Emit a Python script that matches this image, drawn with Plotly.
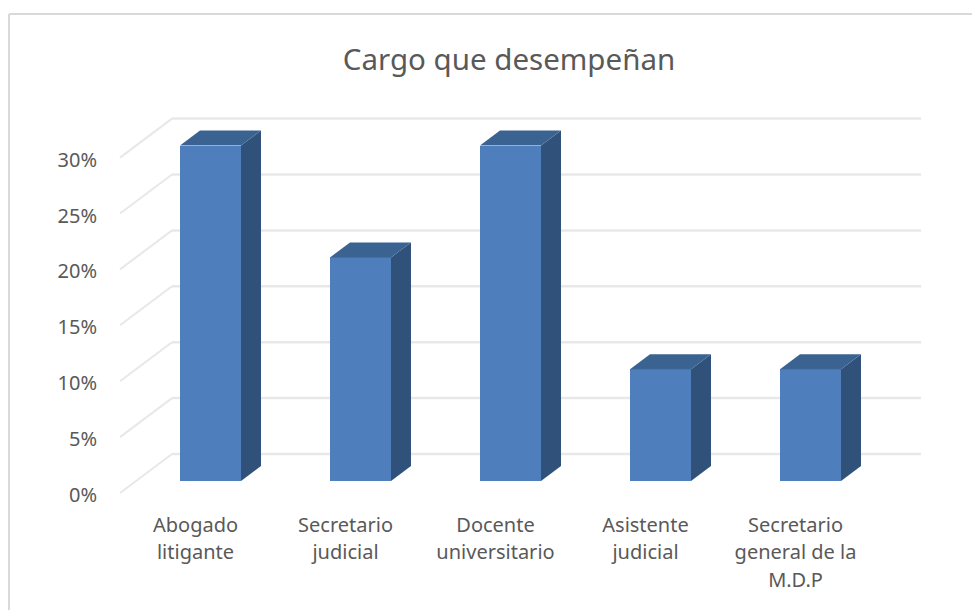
import plotly.graph_objects as go

# ---- data ----
categories = ["Abogado<br>litigante", "Secretario<br>judicial", "Docente<br>universitario",
              "Asistente<br>judicial", "Secretario<br>general de la<br>M.D.P"]
values = [30, 20, 30, 10, 10]
tick_values = [0, 5, 10, 15, 20, 25, 30]
tick_labels = ["0%", "5%", "10%", "15%", "20%", "25%", "30%"]
title_text = "Cargo que desempeñan"

# ---- geometry of the oblique projection (axis units) ----
W, H = 972, 610
PX_PER_X = 150.0
PX_PER_Y = 11.18
X0_PX = 210.5      # first bar centre
Y0_PX = 481.0      # front baseline of bars
def xu(px): return (px - X0_PX) / PX_PER_X
def yu(px): return (Y0_PX - px) / PX_PER_Y

BAR_W = 61 / PX_PER_X
DEPTH_X = 20 / PX_PER_X
DEPTH_Y = 15 / PX_PER_Y
AXIS_Y_SHIFT = yu(493)          # label plane relative to the bars' plane
WALL_Y_SHIFT = yu(454)          # back wall relative to the bars' plane
FLOOR_LEFT = xu(120)
WALL_LEFT = xu(172)
WALL_RIGHT = xu(921)
LABEL_SHIFT = -15 / PX_PER_X

C_FRONT = "#4e7fbc"
C_SIDE = "#30517a"
C_TOP = "#3b6391"
C_GRID = "#e8e8e8"
C_TEXT = "#595959"
C_FRAME = "#d9d9d9"

x_pos = list(range(len(values)))

fig = go.Figure()
fig.add_trace(go.Bar(x=x_pos, y=values, width=BAR_W, marker=dict(color=C_FRONT, line=dict(width=0)),
                     showlegend=False, hoverinfo="skip"))

for xc, v in zip(x_pos, values):
    xl, xr = xc - BAR_W / 2, xc + BAR_W / 2
    fig.add_trace(go.Scatter(
        x=[xr, xr + DEPTH_X, xr + DEPTH_X, xr, xr],
        y=[0, DEPTH_Y, v + DEPTH_Y, v, 0],
        mode="lines", fill="toself", fillcolor=C_SIDE, line=dict(width=0),
        showlegend=False, hoverinfo="skip"))
    fig.add_trace(go.Scatter(
        x=[xl, xl + DEPTH_X, xr + DEPTH_X, xr, xl],
        y=[v, v + DEPTH_Y, v + DEPTH_Y, v, v],
        mode="lines", fill="toself", fillcolor=C_TOP, line=dict(width=0),
        showlegend=False, hoverinfo="skip"))

shapes = []
for t in tick_values:
    yf, yb = t + AXIS_Y_SHIFT, t + WALL_Y_SHIFT
    shapes.append(dict(type="line", xref="x", yref="y", layer="below",
                       x0=FLOOR_LEFT, y0=yf, x1=WALL_LEFT, y1=yb,
                       line=dict(color=C_GRID, width=2)))
    shapes.append(dict(type="line", xref="x", yref="y", layer="below",
                       x0=WALL_LEFT, y0=yb, x1=WALL_RIGHT, y1=yb,
                       line=dict(color=C_GRID, width=2.5)))
shapes.append(dict(type="line", xref="paper", yref="paper", x0=9/W, x1=9/W, y0=0, y1=1-14/H,
                   line=dict(color=C_FRAME, width=2)))
shapes.append(dict(type="line", xref="paper", yref="paper", x0=9/W, x1=1, y0=1-14/H, y1=1-14/H,
                   line=dict(color=C_FRAME, width=2)))

def small(s):
    return "<br>".join(f'<span style="font-size:20px">{p}</span>' for p in s.split("<br>"))

fig.update_layout(
    width=W, height=H, margin=dict(l=0, r=0, t=0, b=0),
    paper_bgcolor="white", plot_bgcolor="white", shapes=shapes,
    font=dict(family="Noto Sans, Open Sans, sans-serif", color=C_TEXT),
    title=dict(text=title_text, x=509/W, xanchor="center", y=1-60/H, yanchor="middle",
               font=dict(size=29.5, color=C_TEXT)),
    bargap=0,
    xaxis=dict(domain=[100/W, 1], range=[xu(100), xu(W)], tickmode="array",
               tickvals=[x + LABEL_SHIFT for x in x_pos], ticktext=[small(c) for c in categories],
               tickfont=dict(size=21.5, color=C_TEXT), tickangle=0,
               showgrid=False, zeroline=False, showline=False, ticks="", ticklen=0, automargin=False),
    yaxis=dict(domain=[101/H, 1], range=[yu(509), yu(0)], tickmode="array",
               tickvals=[t + AXIS_Y_SHIFT for t in tick_values], ticktext=tick_labels,
               tickfont=dict(size=20, color=C_TEXT), ticklabelstandoff=2, ticklabelshift=2,
               showgrid=False, zeroline=False, showline=False, ticks="", ticklen=0, automargin=False),
)
fig.write_html("out.html", config=dict(displayModeBar=False),
               post_script="document.body.style.margin='0';document.documentElement.style.overflow='hidden';")
